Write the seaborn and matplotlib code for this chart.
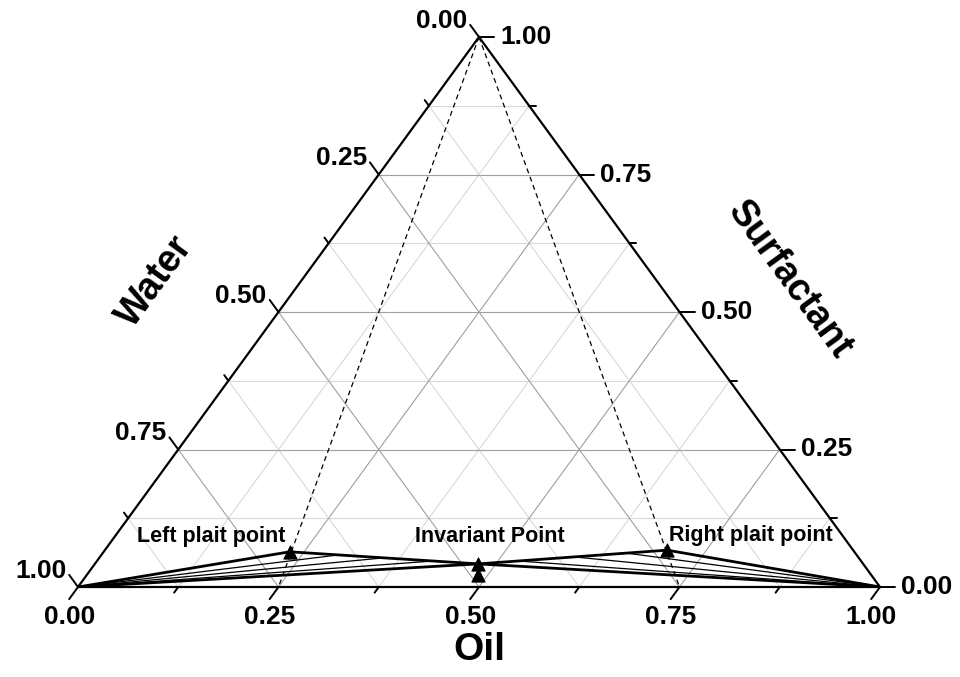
import numpy as np
import pandas as pd
import matplotlib
matplotlib.use("Agg")
import matplotlib.pyplot as plt
import seaborn as sns

# ---------------- data (compositions: Oil, Surfactant; Water = 1 - Oil - Surfactant)
point_names = ["Left plait point", "Invariant Point", "Right plait point", "Invariant lower"]
point_oil = [0.232, 0.478, 0.701, 0.488]
point_surf = [0.064, 0.042, 0.067, 0.022]

# tie-line end points (on the binodal branches)
left_tie_oil = [0.294, 0.355, 0.417]
left_tie_surf = [0.058, 0.053, 0.047]
right_tie_oil = [0.651, 0.589, 0.528]
right_tie_surf = [0.062, 0.055, 0.047]

# dashed lines from the surfactant apex to these oil fractions on the base
dashed_end_oil = [0.25, 0.75]

major_vals = [0.0, 0.25, 0.5, 0.75, 1.0]
major_labels = ["0.00", "0.25", "0.50", "0.75", "1.00"]
minor_vals = [0.125, 0.375, 0.625, 0.875]

annot_texts = ["Left plait point", "Invariant Point", "Right plait point"]


def to_xy(oil, surf):
    oil = np.asarray(oil, dtype=float)
    surf = np.asarray(surf, dtype=float)
    return oil + surf / 2.0, surf


sns.set_theme(style="white")
plt.rcParams["font.family"] = ["Liberation Sans", "DejaVu Sans"]
plt.rcParams["font.weight"] = "bold"
plt.rcParams["text.color"] = "black"

W, H = 960, 677
fig = plt.figure(figsize=(W / 100, H / 100), dpi=100)
AX_L, AX_B, AX_W, AX_H = 78, 90, 802, 550
ax = fig.add_axes([AX_L / W, AX_B / H, AX_W / W, AX_H / H])
ax.set_xlim(0, 1)
ax.set_ylim(0, 1)
ax.axis("off")

# ---------------- grid
def grid_lines(vals, color, lw):
    for v in vals:
        x, y = to_xy([0, 1 - v], [v, v])
        ax.plot(x, y, color=color, lw=lw, zorder=1)
        x, y = to_xy([v, v], [0, 1 - v])
        ax.plot(x, y, color=color, lw=lw, zorder=1)
        x, y = to_xy([1 - v, 0], [0, 1 - v])
        ax.plot(x, y, color=color, lw=lw, zorder=1)

grid_lines(minor_vals, "#d9d9d9", 0.8)
grid_lines([0.25, 0.5, 0.75], "#a0a0a0", 0.8)

# ---------------- dashed lines
for o in dashed_end_oil:
    x, y = to_xy([0, o], [1, 0])
    ax.plot(x, y, color="black", lw=0.9, ls=(0, (4, 3)), zorder=2)

# ---------------- frame
fx, fy = to_xy([0, 1, 0, 0], [0, 0, 1, 0])
ax.plot(fx, fy, color="black", lw=1.6, zorder=3, clip_on=False, solid_joinstyle="miter")

# ---------------- ticks & labels
LMAJ, LMIN = 15, 7
kx, ky = 1 / AX_W, 1 / AX_H
diag = np.hypot(401, 550)


def px_off(dx, dy):
    return dx * kx, dy * ky


fs_tick = 19
for vals, L in ((major_vals, LMAJ), (minor_vals, LMIN)):
    for v in vals:
        x0, y0 = to_xy(v, 0)
        dx, dy = px_off(-401 / diag * L, -550 / diag * L)
        ax.plot([x0, x0 + dx], [y0, y0 + dy], color="black", lw=1.4, clip_on=False, zorder=3)
        x0, y0 = to_xy(0, 1 - v)
        dx, dy = px_off(-401 / diag * L, 550 / diag * L)
        ax.plot([x0, x0 + dx], [y0, y0 + dy], color="black", lw=1.4, clip_on=False, zorder=3)
        x0, y0 = to_xy(1 - v, v)
        dx, dy = px_off(L, 0)
        ax.plot([x0, x0 + dx], [y0, y0 + dy], color="black", lw=1.4, clip_on=False, zorder=3)

for v, lab in zip(major_vals, major_labels):
    L = LMAJ
    x0, y0 = to_xy(v, 0)
    dx, dy = px_off(-401 / diag * L, -(550 / diag * L + 6))
    ax.text(x0 + dx, y0 + dy, lab, ha="center", va="top", fontsize=fs_tick, fontweight="bold")
    x0, y0 = to_xy(0, 1 - v)
    dx, dy = px_off(-401 / diag * L - 3, 550 / diag * L + 4)
    ax.text(x0 + dx, y0 + dy, lab, ha="right", va="center", fontsize=fs_tick, fontweight="bold")
    x0, y0 = to_xy(1 - v, v)
    dx, dy = px_off(L + 6, 0)
    ax.text(x0 + dx, y0 + dy, lab, ha="left", va="center", fontsize=fs_tick, fontweight="bold")

# ---------------- axis titles
angle = np.degrees(np.arctan2(550, 401))
fs_title = 27
ax.text(0.5, -0.115, "Oil", ha="center", va="center", fontsize=28, fontweight="bold")
ax.text(0.096, 0.555, "Water", ha="center", va="center", rotation=angle,
        fontsize=fs_title, fontweight="bold")
ax.text(0.888, 0.558, "Surfactant", ha="center", va="center", rotation=-angle,
        fontsize=fs_title, fontweight="bold")

# ---------------- phase boundary lines
LP, IP, RP, IL = 0, 1, 2, 3
seg_thick = [
    ((0.0, 0.0), (point_oil[LP], point_surf[LP])),
    ((point_oil[LP], point_surf[LP]), (point_oil[IP], point_surf[IP])),
    ((0.0, 0.0), (point_oil[IP], point_surf[IP])),
    ((point_oil[IP], point_surf[IP]), (point_oil[RP], point_surf[RP])),
    ((point_oil[RP], point_surf[RP]), (1.0, 0.0)),
    ((point_oil[IP], point_surf[IP]), (1.0, 0.0)),
]
seg_thin = [((0.0, 0.0), (o, s)) for o, s in zip(left_tie_oil, left_tie_surf)] + \
           [((1.0, 0.0), (o, s)) for o, s in zip(right_tie_oil, right_tie_surf)]


def seg_frame(segs):
    rows = []
    for i, (a, b) in enumerate(segs):
        for k, (o, s) in enumerate((a, b)):
            x, y = to_xy(o, s)
            rows.append({"seg": i, "order": k, "x": float(x), "y": float(y)})
    return pd.DataFrame(rows)


sns.lineplot(data=seg_frame(seg_thin), x="x", y="y", units="seg", estimator=None,
             sort=False, color="black", lw=0.9, ax=ax, zorder=4, legend=False)
sns.lineplot(data=seg_frame(seg_thick), x="x", y="y", units="seg", estimator=None,
             sort=False, color="black", lw=2.0, ax=ax, zorder=5, legend=False)

# ---------------- markers
px_, py_ = to_xy(point_oil, point_surf)
pts = pd.DataFrame({"x": px_, "y": py_, "name": point_names})
sns.scatterplot(data=pts, x="x", y="y", marker="^", s=90, color="black",
                edgecolor="black", ax=ax, zorder=6, legend=False)

# ---------------- annotations
ax.text(0.1658, 0.091, annot_texts[0], ha="center", va="center", fontsize=15.5, fontweight="bold")
ax.text(0.5137, 0.091, annot_texts[1], ha="center", va="center", fontsize=15.5, fontweight="bold")
ax.text(0.839, 0.0945, annot_texts[2], ha="center", va="center", fontsize=15.5, fontweight="bold")

ax.set_xlim(0, 1)
ax.set_ylim(0, 1)
fig.savefig("out.png", dpi=100, facecolor="white")
